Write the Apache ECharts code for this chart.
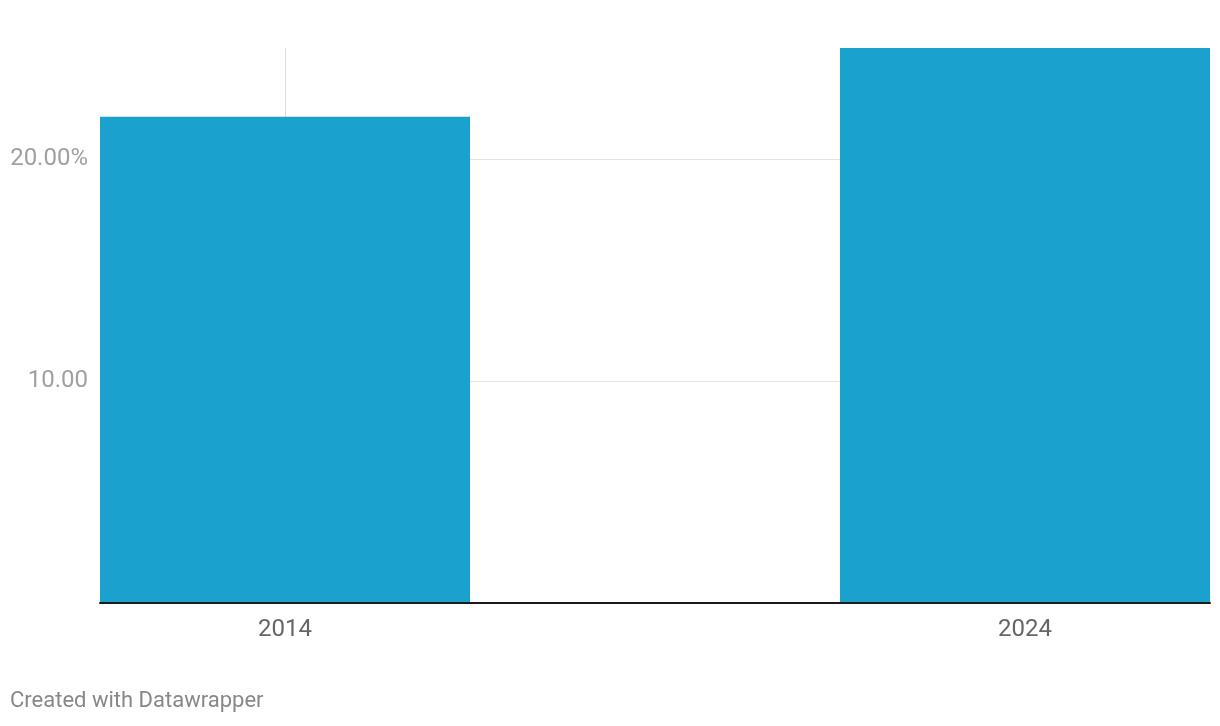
<!DOCTYPE html>
<html>
<head>
<meta charset="utf-8">
<script src="https://cdn.jsdelivr.net/npm/echarts@6/dist/echarts.min.js"></script>
<style>
html,body{margin:0;padding:0;background:#fff;}
#chart{width:1220px;height:726px;}
</style>
</head>
<body>
<div id="chart"></div>
<script>
const categories = ['2014', '2024'];
const values = [21.9, 25.0];
const yTicks = [0, 10, 20];

// The reference leaves an empty slot between the two bars.
const axisCategories = [categories[0], '', categories[1]];
const axisValues = [values[0], '-', values[1]];

const chart = echarts.init(document.getElementById('chart'));
chart.setOption({
  animation: false,
  backgroundColor: '#fff',
  textStyle: { fontFamily: 'Roboto' },
  grid: { left: 100, right: 10, top: 48, bottom: 123, containLabel: false },
  xAxis: {
    type: 'category',
    data: axisCategories,
    z: 20,
    axisLine: { show: true, lineStyle: { color: '#1a1a1a', width: 2 } },
    axisTick: { show: false },
    axisLabel: { color: '#666', fontSize: 24, margin: 15, fontFamily: 'Roboto' },
    splitLine: { show: false }
  },
  yAxis: {
    type: 'value',
    min: 0,
    max: 25,
    interval: 10,
    axisLine: { show: false },
    axisTick: { show: false },
    axisLabel: {
      color: '#a0a0a0', fontSize: 24, margin: 12, fontFamily: 'Roboto',
      showMaxLabel: false,
      formatter: function (v) {
        if (yTicks.indexOf(v) < 0 || v === 0) return '';
        if (v === yTicks[yTicks.length - 1]) return v.toFixed(2) + '%';
        return v.toFixed(2);
      }
    },
    splitLine: { show: true, showMaxLine: false, showMinLine: false, lineStyle: { color: '#e3e3e3', width: 1 } }
  },
  series: [
    {
      type: 'line',
      data: [],
      z: 1,
      markLine: {
        z: 1,
        silent: true,
        symbol: ['none', 'none'],
        label: { show: false },
        lineStyle: { color: '#dddddd', width: 1, type: 'solid' },
        data: categories.map(c => ({ xAxis: c }))
      }
    },
    {
      type: 'bar',
      data: axisValues,
      z: 10,
      barWidth: '100%',
      itemStyle: { color: '#1aa1cd' }
    }
  ],
  graphic: [
    {
      type: 'text',
      left: 10,
      top: 690,
      style: { text: 'Created with Datawrapper', fill: '#888', font: '22px Roboto' }
    }
  ]
});
</script>
</body>
</html>
